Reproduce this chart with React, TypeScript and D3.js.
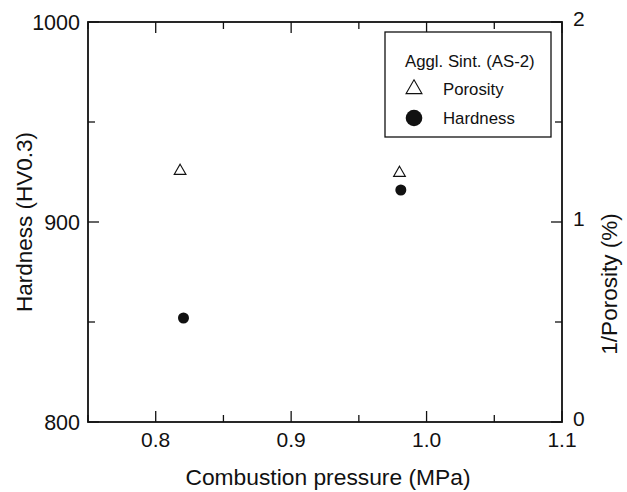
import React from "react";
import * as d3 from "d3";

const porosityX = [0.818, 0.98];
const porosityY = [1.255, 1.245];
const hardnessX = [0.8205, 0.981];
const hardnessY = [852, 916];
const xTicks = [0.8, 0.9, 1.0, 1.1];
const xMinor = [0.75, 0.85, 0.95, 1.05];
const yLeftTicks = [800, 900, 1000];
const yLeftMinor = [850, 950];
const yRightTicks = [0, 1, 2];
const yRightMinor = [0.5, 1.5];

const W = 627, H = 492;
const L = 88, R = 562, T = 22, B = 422;
const FONT = "'Liberation Sans', Arial, Helvetica, sans-serif";

export default function App() {
  const x = d3.scaleLinear().domain([0.75, 1.1]).range([L, R]);
  const yL = d3.scaleLinear().domain([800, 1000]).range([B, T]);
  const yR = d3.scaleLinear().domain([0, 2]).range([B, T]);
  const tri = d3.symbol().type(d3.symbolTriangle).size(60)();
  const triLeg = d3.symbol().type(d3.symbolTriangle).size(110)();
  const major = 11, minor = 7;
  const col = "#111";
  return (
    <svg width={W} height={H} style={{ position: "absolute", left: 0, top: 0, background: "#fff" }}>
      <rect x={0} y={0} width={W} height={H} fill="#fff" />
      <rect x={L} y={T} width={R - L} height={B - T} fill="none" stroke={col} strokeWidth={1.8} />
      {xTicks.map((t) => (
        <g key={"xt" + t}>
          <line x1={x(t)} x2={x(t)} y1={B} y2={B - major} stroke={col} strokeWidth={1.3} />
          <line x1={x(t)} x2={x(t)} y1={T} y2={T + major} stroke={col} strokeWidth={1.3} />
          <text x={x(t)} y={447} textAnchor="middle" fontFamily={FONT} fontSize={21} fill={col}>
            {d3.format(".1f")(t)}
          </text>
        </g>
      ))}
      {xMinor.map((t) => (
        <g key={"xm" + t}>
          <line x1={x(t)} x2={x(t)} y1={B} y2={B - minor} stroke={col} strokeWidth={1.3} />
          <line x1={x(t)} x2={x(t)} y1={T} y2={T + minor} stroke={col} strokeWidth={1.3} />
        </g>
      ))}
      {yLeftTicks.map((t) => (
        <g key={"yl" + t}>
          <line x1={L} x2={L + major} y1={yL(t)} y2={yL(t)} stroke={col} strokeWidth={1.3} />
          <text x={80} y={yL(t) + 7.5} textAnchor="end" fontFamily={FONT} fontSize={21.5} fill={col}>
            {t}
          </text>
        </g>
      ))}
      {yLeftMinor.map((t) => (
        <line key={"ylm" + t} x1={L} x2={L + minor} y1={yL(t)} y2={yL(t)} stroke={col} strokeWidth={1.3} />
      ))}
      {yRightTicks.map((t) => (
        <g key={"yr" + t}>
          <line x1={R} x2={R - major} y1={yR(t)} y2={yR(t)} stroke={col} strokeWidth={1.3} />
          <text x={573} y={yR(t) + 4} textAnchor="start" fontFamily={FONT} fontSize={21} fill={col}>
            {t}
          </text>
        </g>
      ))}
      {yRightMinor.map((t) => (
        <line key={"yrm" + t} x1={R} x2={R - minor} y1={yR(t)} y2={yR(t)} stroke={col} strokeWidth={1.3} />
      ))}
      <text x={(L + R) / 2 + 3} y={485} textAnchor="middle" fontFamily={FONT} fontSize={22.8} fill={col}>
        Combustion pressure (MPa)
      </text>
      <text transform={`translate(32,222) rotate(-90)`} textAnchor="middle" fontFamily={FONT} fontSize={22.5} fill={col}>
        Hardness (HV0.3)
      </text>
      <text transform={`translate(617,284) rotate(-90)`} textAnchor="middle" fontFamily={FONT} fontSize={22.5} fill={col}>
        1/Porosity (%)
      </text>
      {porosityX.map((v, i) => (
        <path key={"p" + i} d={tri} transform={`translate(${x(v)},${yR(porosityY[i])})`} fill="#fff" stroke={col} strokeWidth={1.1} />
      ))}
      {hardnessX.map((v, i) => (
        <circle key={"h" + i} cx={x(v)} cy={yL(hardnessY[i])} r={5.5} fill={col} />
      ))}
      <rect x={385} y={32} width={166} height={105} fill="#fff" stroke={col} strokeWidth={1.3} />
      <text x={405} y={67} fontFamily={FONT} fontSize={16.8} fill={col}>Aggl. Sint. (AS-2)</text>
      <path d={triLeg} transform={`translate(414,89)`} fill="#fff" stroke={col} strokeWidth={1.1} />
      <text x={443} y={95} fontFamily={FONT} fontSize={16.8} fill={col}>Porosity</text>
      <circle cx={414} cy={118} r={8.3} fill={col} />
      <text x={443} y={124} fontFamily={FONT} fontSize={16.8} fill={col}>Hardness</text>
    </svg>
  );
}
